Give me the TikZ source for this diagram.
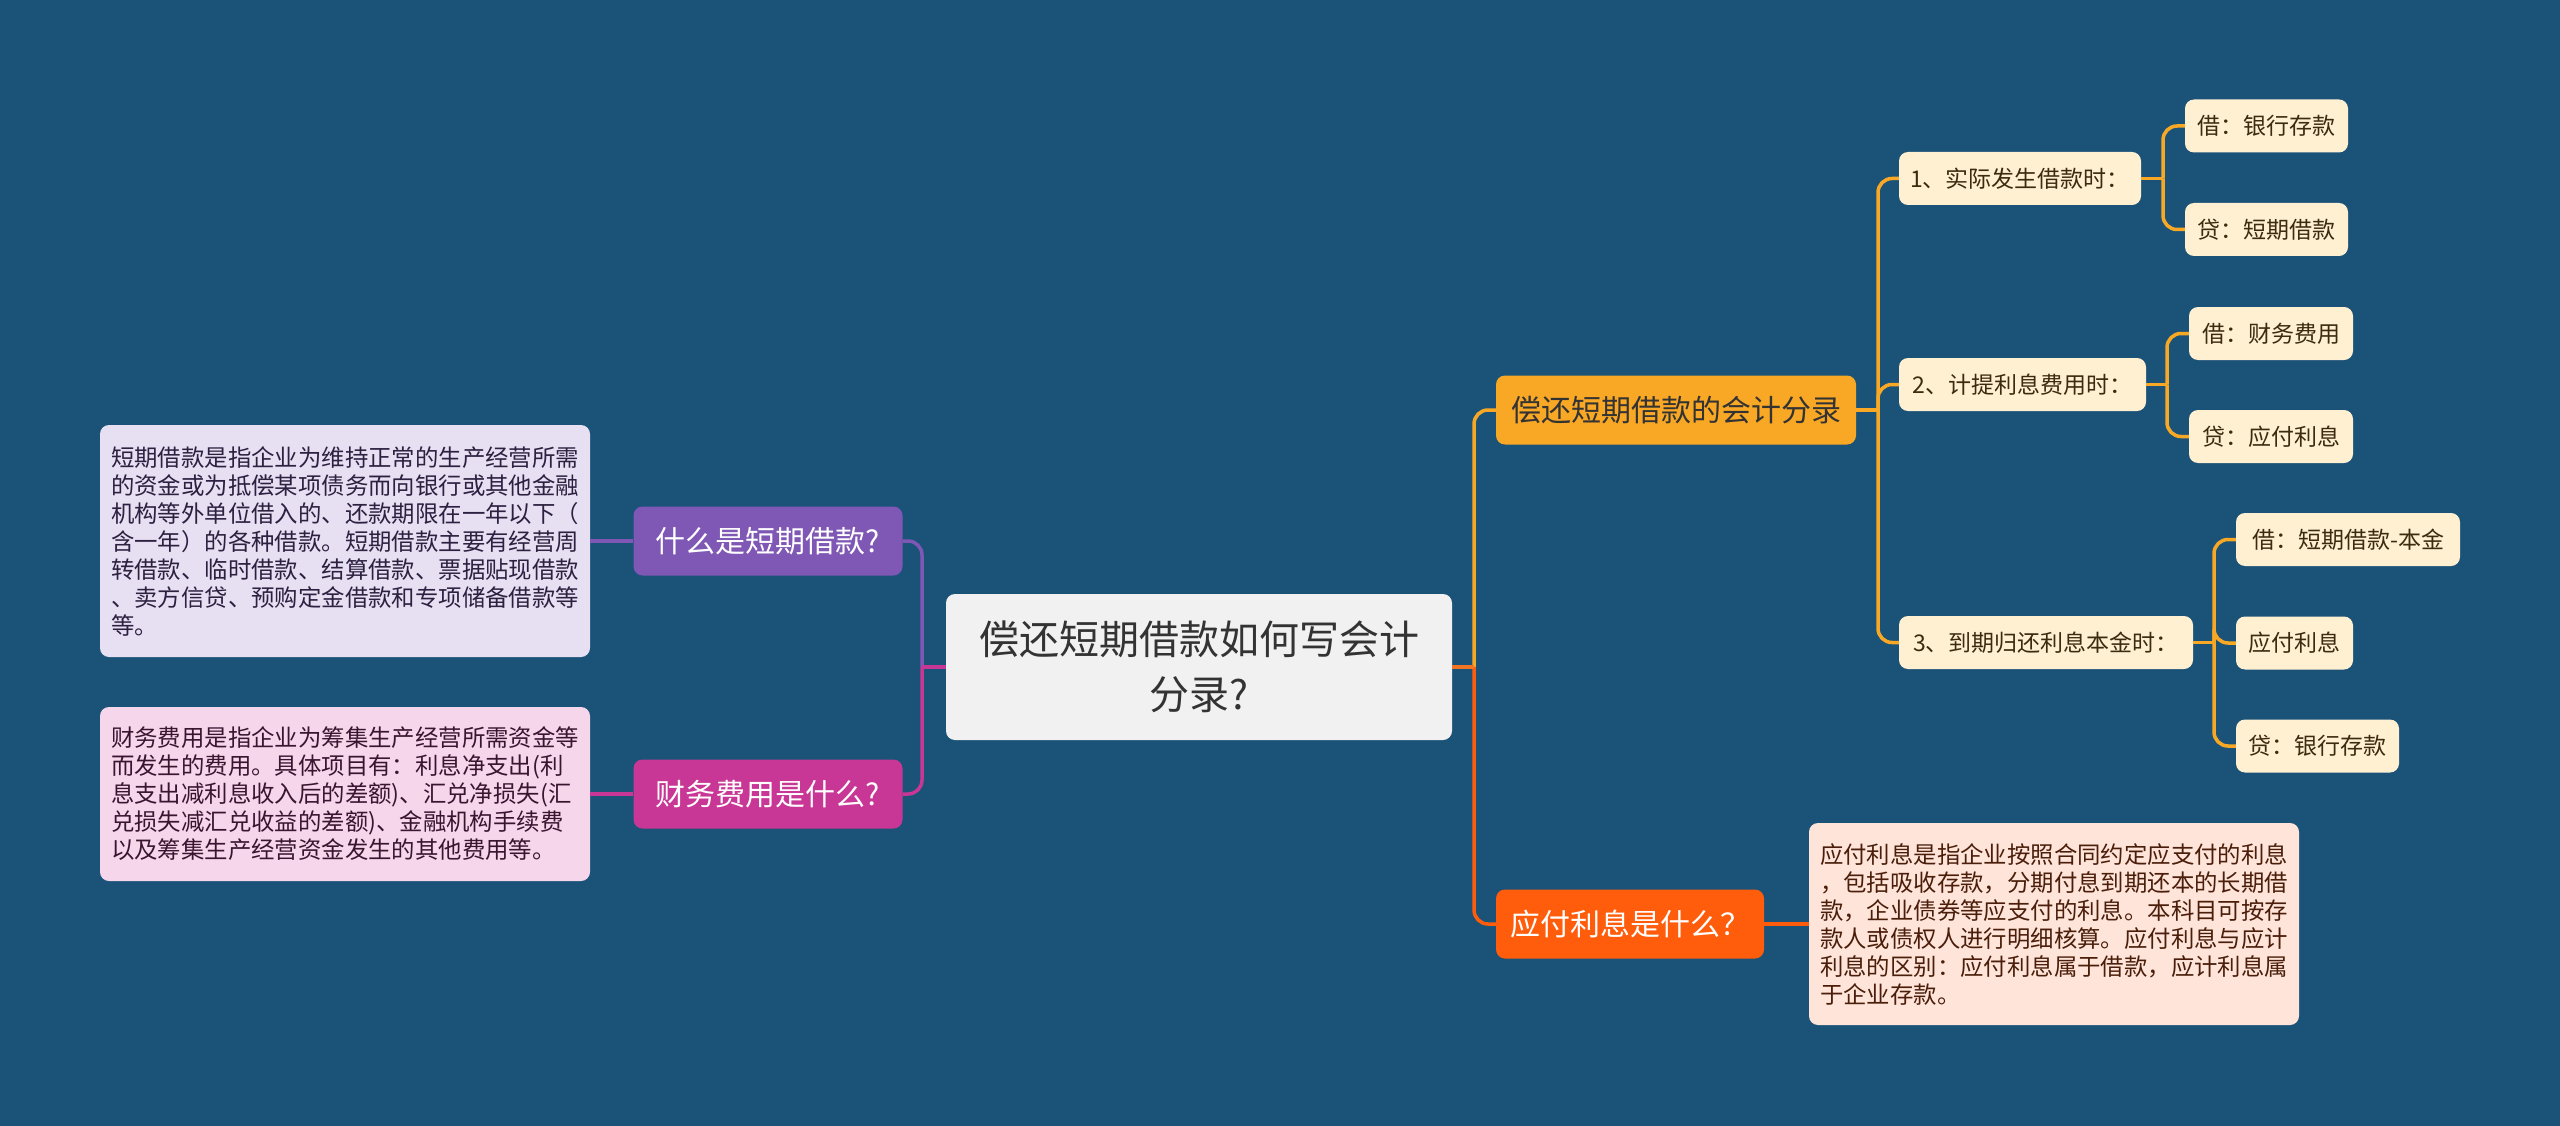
\documentclass[tikz,border=0pt]{standalone}
\usepackage{fontspec}
\setmainfont{Noto Sans CJK SC}
\definecolor{bg}{HTML}{1B5278}
\definecolor{rootfill}{HTML}{F1F1F1}
\definecolor{roottext}{HTML}{333333}
\definecolor{cpurple}{HTML}{7F57B4}
\definecolor{cmagenta}{HTML}{C83795}
\definecolor{cgold}{HTML}{F9A825}
\definecolor{corange}{HTML}{FF5C0C}
\definecolor{cstub}{HTML}{F27524}
\definecolor{lav}{HTML}{E6E0F2}
\definecolor{lavtext}{HTML}{2D2040}
\definecolor{pink}{HTML}{F6D6EB}
\definecolor{pinktext}{HTML}{3A1530}
\definecolor{peach}{HTML}{FFE4D9}
\definecolor{peachtext}{HTML}{4A1E0A}
\definecolor{cream}{HTML}{FFF0D2}
\definecolor{creamtext}{HTML}{3D2B10}
\begin{document}
\begin{tikzpicture}[x=1pt,y=-1pt,
  box/.style={rounded corners=9pt, inner sep=0pt, align=center},
  rootbox/.style={box, fill=rootfill, text=roottext, font=\fontsize{40}{55}\selectfont},
  lone/.style={box, font=\fontsize{30}{36}\selectfont, minimum height=69pt},
  ltwo/.style={box, fill=cream, text=creamtext, font=\fontsize{23}{28}\selectfont, minimum height=53pt},
  desc/.style={box, align=left, font=\fontsize{23.4}{28}\selectfont},
  link/.style={line width=3.5pt, rounded corners=14pt}]
\fill[bg] (0,0) rectangle (2560,1126);
\useasboundingbox (0,0) rectangle (2560,1126);

% root
\node[rootbox, minimum width=506pt, minimum height=146pt] (root) at (1199,667) {偿还短期借款如何写会计\\分录?};

% left branches
\node[lone, fill=cpurple, text=white, minimum width=269pt] (whatis) at (768,541) {什么是短期借款?};
\node[lone, fill=cmagenta, text=white, minimum width=269pt] (fin) at (768,794) {财务费用是什么?};
\node[desc, fill=lav, text=lavtext, minimum width=490pt, minimum height=232pt] (def1) at (345,541) {短期借款是指企业为维持正常的生产经营所需\\的资金或为抵偿某项债务而向银行或其他金融\\机构等外单位借入的、还款期限在一年以下（\\含一年）的各种借款。短期借款主要有经营周\\转借款、临时借款、结算借款、票据贴现借款\\、卖方信贷、预购定金借款和专项储备借款等\\等。};
\node[desc, fill=pink, text=pinktext, minimum width=490pt, minimum height=174pt] (def2) at (345,794) {财务费用是指企业为筹集生产经营所需资金等\\而发生的费用。具体项目有：利息净支出(利\\息支出减利息收入后的差额)、汇兑净损失(汇\\兑损失减汇兑收益的差额)、金融机构手续费\\以及筹集生产经营资金发生的其他费用等。};

% right branches
\node[lone, fill=cgold, text=roottext, minimum width=360pt] (entry) at (1676,410) {偿还短期借款的会计分录};
\node[lone, fill=corange, text=white, minimum width=268pt] (payq) at (1630,924) {应付利息是什么？};
\node[desc, fill=peach, text=peachtext, minimum width=490pt, minimum height=202pt] (def3) at (2054,924) {应付利息是指企业按照合同约定应支付的利息\\，包括吸收存款，分期付息到期还本的长期借\\款，企业债券等应支付的利息。本科目可按存\\款人或债权人进行明细核算。应付利息与应计\\利息的区别：应付利息属于借款，应计利息属\\于企业存款。};

% level 2
\node[ltwo, minimum width=242pt] (s1) at (2020,178.5) {1、实际发生借款时：};
\node[ltwo, minimum width=247pt] (s2) at (2022.5,384.5) {2、计提利息费用时：};
\node[ltwo, minimum width=294pt] (s3) at (2046,642.5) {3、到期归还利息本金时：};

% leaves
\node[ltwo, minimum width=163pt] (a1) at (2266.5,126) {借：银行存款};
\node[ltwo, minimum width=163pt] (a2) at (2266.5,229.5) {贷：短期借款};
\node[ltwo, minimum width=164pt] (b1) at (2271,333.5) {借：财务费用};
\node[ltwo, minimum width=164pt] (b2) at (2271,436.5) {贷：应付利息};
\node[ltwo, minimum width=224pt] (c1) at (2348,539.5) {借：短期借款-本金};
\node[ltwo, minimum width=117pt] (c2) at (2294.5,643) {应付利息};
\node[ltwo, minimum width=163pt] (c3) at (2317.5,746) {贷：银行存款};

% junctions
\coordinate (jl) at (922,667);
\coordinate (jr) at (1474,667);
\coordinate (je) at (1878,410);
\coordinate (j1) at (2163,178.5);
\coordinate (j2) at (2167,384.5);
\coordinate (j3) at (2214,642.5);

% left connectors
\draw[link, cpurple] (jl) |- (whatis.east);
\draw[link, cmagenta] (jl) |- (fin.east);
\draw[link, cmagenta] (root.west) -- (jl);
\draw[link, cpurple] (whatis.west) -- (def1.east);
\draw[link, cmagenta] (fin.west) -- (def2.east);

% right connectors
\draw[link, cgold] (jr) |- (entry.west);
\draw[link, corange] (jr) |- (payq.west);
\draw[link, cstub] (root.east) -- (jr);
\draw[link, corange] (payq.east) -- (def3.west);

\draw[link, cgold] (entry.east) -- (je);
\draw[link, cgold] (je) |- (s1.west);
\draw[link, cgold] (je) |- (s2.west);
\draw[link, cgold] (je) |- (s3.west);

\draw[link, cgold] (s1.east) -- (j1);
\draw[link, cgold] (j1) |- (a1.west);
\draw[link, cgold] (j1) |- (a2.west);
\draw[link, cgold] (s2.east) -- (j2);
\draw[link, cgold] (j2) |- (b1.west);
\draw[link, cgold] (j2) |- (b2.west);
\draw[link, cgold] (s3.east) -- (j3);
\draw[link, cgold] (j3) |- (c1.west);
\draw[link, cgold] (j3) |- (c2.west);
\draw[link, cgold] (j3) |- (c3.west);
\end{tikzpicture}
\end{document}
